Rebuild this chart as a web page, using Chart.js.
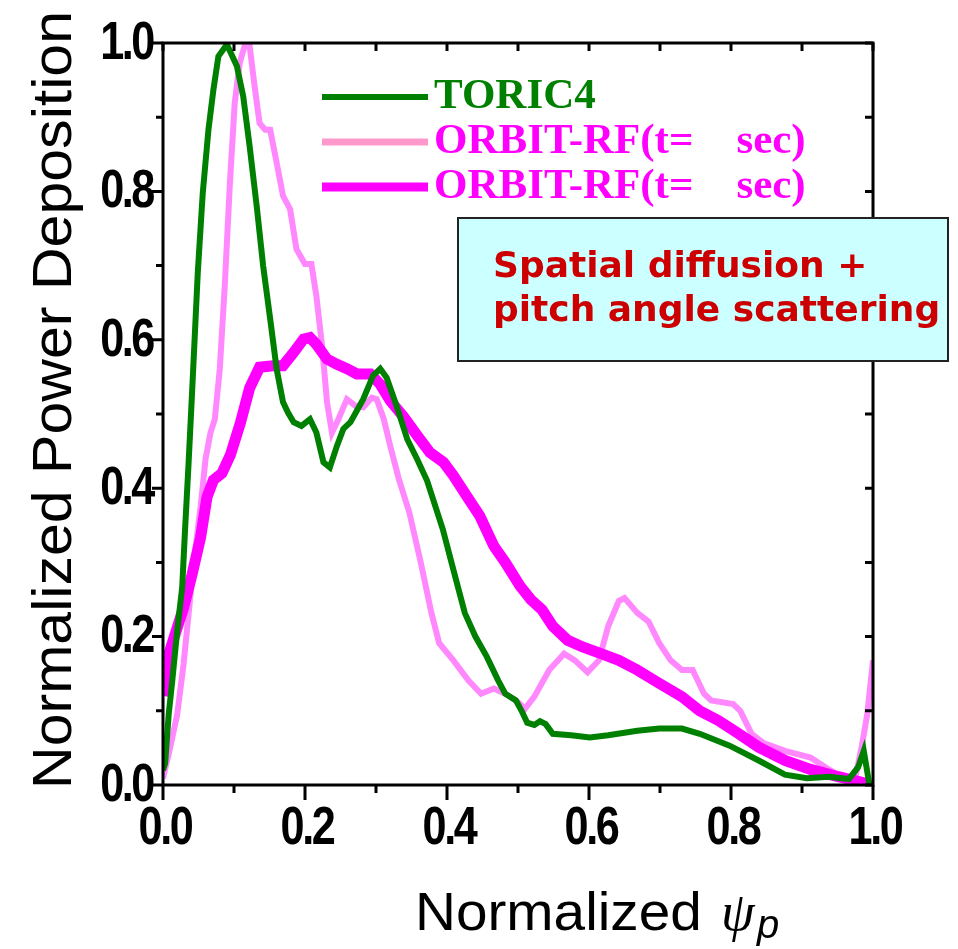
<!DOCTYPE html>
<html>
<head>
<meta charset="utf-8">
<script src="https://cdn.jsdelivr.net/npm/chart.js@4.4.0/dist/chart.umd.min.js"></script>
<style>
  html, body { margin: 0; padding: 0; background: #fff; }
  #wrap { width: 958px; height: 949px; }
</style>
</head>
<body>
<div id="wrap"><canvas id="grafico" width="958" height="949"></canvas></div>
<script>
// normalized psi_p positions and normalized power deposition
const toricX = [0.0, 0.003, 0.008, 0.013, 0.020, 0.027, 0.031, 0.036, 0.041, 0.049, 0.056, 0.064, 0.071, 0.078, 0.090, 0.104, 0.113, 0.122, 0.132, 0.141, 0.151, 0.160, 0.169, 0.176, 0.184, 0.195, 0.207, 0.216, 0.226, 0.235, 0.245, 0.254, 0.264, 0.282, 0.296, 0.306, 0.315, 0.329, 0.344, 0.358, 0.372, 0.394, 0.409, 0.425, 0.440, 0.456, 0.472, 0.482, 0.497, 0.505, 0.513, 0.523, 0.531, 0.539, 0.549, 0.575, 0.601, 0.627, 0.668, 0.699, 0.731, 0.756, 0.798, 0.839, 0.876, 0.907, 0.938, 0.966, 0.979, 0.987, 0.995, 1.0];
const toricY = [0.02, 0.029, 0.095, 0.14, 0.208, 0.266, 0.343, 0.433, 0.53, 0.691, 0.798, 0.883, 0.937, 0.982, 0.998, 0.969, 0.928, 0.861, 0.780, 0.700, 0.628, 0.561, 0.516, 0.502, 0.489, 0.484, 0.493, 0.475, 0.435, 0.428, 0.457, 0.480, 0.489, 0.520, 0.552, 0.561, 0.549, 0.511, 0.466, 0.439, 0.41, 0.345, 0.290, 0.232, 0.200, 0.173, 0.141, 0.123, 0.114, 0.100, 0.084, 0.081, 0.086, 0.082, 0.069, 0.067, 0.064, 0.067, 0.073, 0.076, 0.076, 0.069, 0.053, 0.033, 0.014, 0.009, 0.011, 0.008, 0.024, 0.046, 0.0, 0.001];

const orbit1X = [0.0, 0.010, 0.020, 0.029, 0.036, 0.043, 0.053, 0.060, 0.067, 0.073, 0.080, 0.087, 0.094, 0.101, 0.108, 0.115, 0.122, 0.129, 0.136, 0.144, 0.151, 0.160, 0.169, 0.179, 0.188, 0.200, 0.209, 0.216, 0.224, 0.231, 0.238, 0.247, 0.259, 0.271, 0.282, 0.294, 0.301, 0.311, 0.320, 0.332, 0.347, 0.363, 0.378, 0.389, 0.409, 0.430, 0.448, 0.466, 0.482, 0.497, 0.510, 0.523, 0.544, 0.565, 0.580, 0.598, 0.614, 0.627, 0.642, 0.650, 0.668, 0.684, 0.699, 0.715, 0.731, 0.746, 0.762, 0.772, 0.803, 0.813, 0.829, 0.845, 0.876, 0.912, 0.933, 0.953, 0.974, 0.984, 0.992, 1.0];
const orbit1Y = [0.009, 0.05, 0.095, 0.163, 0.23, 0.298, 0.375, 0.44, 0.475, 0.493, 0.561, 0.673, 0.807, 0.919, 0.973, 0.996, 0.996, 0.942, 0.892, 0.883, 0.883, 0.839, 0.794, 0.776, 0.722, 0.702, 0.702, 0.659, 0.592, 0.516, 0.475, 0.493, 0.520, 0.511, 0.509, 0.522, 0.520, 0.493, 0.457, 0.413, 0.367, 0.30, 0.232, 0.191, 0.168, 0.141, 0.123, 0.130, 0.123, 0.114, 0.103, 0.119, 0.155, 0.177, 0.168, 0.152, 0.168, 0.214, 0.248, 0.252, 0.232, 0.220, 0.191, 0.168, 0.155, 0.155, 0.123, 0.114, 0.109, 0.100, 0.069, 0.057, 0.046, 0.037, 0.024, 0.012, 0.005, 0.051, 0.096, 0.168];

const orbit2X = [0.0, 0.008, 0.017, 0.029, 0.041, 0.053, 0.062, 0.071, 0.083, 0.095, 0.109, 0.122, 0.136, 0.155, 0.169, 0.184, 0.198, 0.207, 0.216, 0.231, 0.245, 0.259, 0.273, 0.292, 0.306, 0.320, 0.339, 0.358, 0.376, 0.395, 0.409, 0.430, 0.446, 0.466, 0.482, 0.503, 0.518, 0.534, 0.549, 0.570, 0.591, 0.617, 0.642, 0.668, 0.699, 0.731, 0.756, 0.782, 0.808, 0.839, 0.876, 0.912, 0.948, 0.979, 0.995];
const orbit2Y = [0.12, 0.176, 0.203, 0.239, 0.284, 0.334, 0.388, 0.411, 0.42, 0.445, 0.488, 0.535, 0.563, 0.565, 0.565, 0.583, 0.601, 0.603, 0.594, 0.574, 0.567, 0.561, 0.554, 0.554, 0.54, 0.518, 0.496, 0.471, 0.448, 0.435, 0.417, 0.386, 0.363, 0.322, 0.300, 0.268, 0.250, 0.236, 0.214, 0.195, 0.186, 0.177, 0.168, 0.155, 0.137, 0.119, 0.100, 0.087, 0.071, 0.051, 0.033, 0.021, 0.012, 0.005, 0.001];

const tickLabels = ['0.0', '0.2', '0.4', '0.6', '0.8', '1.0'];
const seriesNames = ['TORIC4', 'ORBIT-RF(t=    sec)', 'ORBIT-RF(t=    sec)'];
const boxLines = ['Spatial diffusion +', 'pitch angle scattering'];

const toPts = (xs, ys) => xs.map((x, i) => ({ x: x, y: ys[i] }));

// legend, frame, ticks, labels and the note box are drawn here
const decor = {
  id: 'decor',
  afterDatasetsDraw(chart) {
    const c = chart.ctx;
    const xs = chart.scales.x, ys = chart.scales.y;
    const a = chart.chartArea;
    c.save();
    c.strokeStyle = '#000';
    c.lineWidth = 3;
    c.strokeRect(a.left, a.top, a.right - a.left, a.bottom - a.top);

    // ticks every 0.1, outward on bottom/left, inward on top/right
    for (let i = 0; i <= 10; i++) {
      const v = i / 10, major = i % 2 === 0;
      const px = xs.getPixelForValue(v), py = ys.getPixelForValue(v);
      c.beginPath();
      c.moveTo(px, a.bottom); c.lineTo(px, a.bottom + (major ? 15 : 8));
      c.moveTo(a.left - (major ? 11 : 7), py); c.lineTo(a.left, py);
      c.moveTo(px, a.top); c.lineTo(px, a.top + 8);
      c.moveTo(a.right - 8, py); c.lineTo(a.right, py);
      c.stroke();
    }

    // tick labels: bold and squeezed
    c.fillStyle = '#000';
    c.font = 'bold 54px "Liberation Sans", Arial, sans-serif';
    c.letterSpacing = '-3px';
    tickLabels.forEach(t => {
      const v = parseFloat(t);
      const px = xs.getPixelForValue(v), py = ys.getPixelForValue(v);
      c.save();
      c.translate(px + 2, 829); c.scale(0.8, 1);
      c.textAlign = 'center'; c.textBaseline = 'middle';
      c.fillText(t, 0, 0);
      c.restore();
      c.save();
      c.translate(153, py + 1); c.scale(0.8, 1);
      c.textAlign = 'right'; c.textBaseline = 'middle';
      c.fillText(t, 0, 0);
      c.restore();
    });
    c.letterSpacing = '0px';

    // axis titles
    c.font = '54px "Liberation Sans", Arial, sans-serif';
    c.textAlign = 'left'; c.textBaseline = 'alphabetic';
    c.save();
    c.translate(415, 930); c.scale(1.05, 1);
    c.fillText('Normalized', 0, 0);
    c.restore();
    c.font = 'italic 54px "Liberation Serif", serif';
    c.fillText('\u03C8', 721, 930);
    c.font = 'italic 40px "Liberation Sans", sans-serif';
    c.fillText('p', 757, 938);

    c.save();
    c.font = '56px "Liberation Sans", Arial, sans-serif';
    const title = 'Normalized Power Deposition';
    const w = c.measureText(title).width;
    c.translate(71, 400); c.rotate(-Math.PI / 2);
    c.scale(778 / w, 1);
    c.textAlign = 'center'; c.textBaseline = 'alphabetic';
    c.fillText(title, 0, 0);
    c.restore();

    // legend
    const legColors = ['#008000', '#ff99cc', '#ff00ff'];
    const legText = ['#008000', '#ff00ff', '#ff00ff'];
    const legWidth = [6, 7, 9];
    const rowY = [97, 142, 187];
    c.font = 'bold 43px "Liberation Serif", "Times New Roman", serif';
    c.textAlign = 'left'; c.textBaseline = 'alphabetic';
    seriesNames.forEach((n, i) => {
      c.strokeStyle = legColors[i];
      c.lineWidth = legWidth[i];
      c.beginPath(); c.moveTo(322, rowY[i]); c.lineTo(428, rowY[i]); c.stroke();
      c.fillStyle = legText[i];
      c.fillText(n, 434, rowY[i] + 11);
    });

    // note box
    c.fillStyle = '#ccffff';
    c.fillRect(458, 218, 490, 143);
    c.strokeStyle = '#222';
    c.lineWidth = 2;
    c.strokeRect(458, 218, 490, 143);
    c.fillStyle = '#cc0000';
    c.font = 'bold 36px "DejaVu Sans", Verdana, sans-serif';
    c.fillText(boxLines[0], 493, 277);
    c.fillText(boxLines[1], 493, 321);
    c.restore();
  }
};

new Chart(document.getElementById('grafico').getContext('2d'), {
  type: 'scatter',
  data: {
    datasets: [
      { label: seriesNames[0], data: toPts(toricX, toricY), showLine: true, borderColor: '#008000', borderWidth: 6, pointRadius: 0, order: 0 },
      { label: seriesNames[1], data: toPts(orbit1X, orbit1Y), showLine: true, borderColor: '#ff88ff', borderWidth: 6, pointRadius: 0, order: 2 },
      { label: seriesNames[2], data: toPts(orbit2X, orbit2Y), showLine: true, borderColor: '#ff00ff', borderWidth: 11, pointRadius: 0, order: 1 }
    ]
  },
  options: {
    responsive: false,
    animation: false,
    layout: { padding: { top: 43, right: 85, left: 0, bottom: 0 } },
    plugins: { legend: { display: false }, tooltip: { enabled: false } },
    scales: {
      x: {
        type: 'linear', min: 0, max: 1,
        grid: { display: false }, border: { display: false },
        ticks: { display: false },
        afterFit: s => { s.height = 164; }
      },
      y: {
        min: 0, max: 1,
        grid: { display: false }, border: { display: false },
        ticks: { display: false },
        afterFit: s => { s.width = 163; }
      }
    }
  },
  plugins: [decor]
});
</script>
</body>
</html>
